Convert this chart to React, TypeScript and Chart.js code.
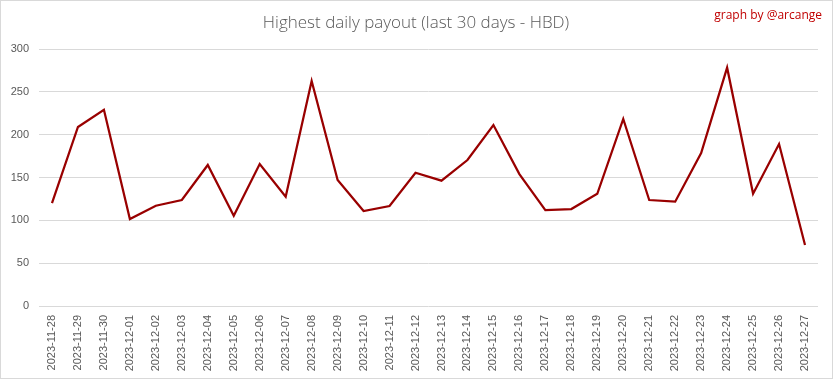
import React, { useEffect, useRef } from "react";
import { Chart, registerables } from "chart.js";

Chart.register(...registerables);

const dates = [
  "2023-11-28", "2023-11-29", "2023-11-30", "2023-12-01", "2023-12-02", "2023-12-03",
  "2023-12-04", "2023-12-05", "2023-12-06", "2023-12-07", "2023-12-08", "2023-12-09",
  "2023-12-10", "2023-12-11", "2023-12-12", "2023-12-13", "2023-12-14", "2023-12-15",
  "2023-12-16", "2023-12-17", "2023-12-18", "2023-12-19", "2023-12-20", "2023-12-21",
  "2023-12-22", "2023-12-23", "2023-12-24", "2023-12-25", "2023-12-26", "2023-12-27",
];

const payouts = [
  120, 209, 229, 101.5, 117, 123.7, 164.6, 105.4, 165.8, 127.6, 262.6, 147,
  110.9, 116.7, 155.6, 146.3, 170.4, 211.3, 154, 112, 113.2, 131, 218.3, 123.7,
  121.8, 178.6, 278.2, 131, 189, 71.2,
];

const yTicks = [0, 50, 100, 150, 200, 250, 300];

const titleText = "Highest daily payout (last 30 days - HBD)";
const watermarkText = "graph by @arcange";

const textPlugin = {
  id: "texts",
  afterDraw(chart: any) {
    const ctx = chart.ctx;
    ctx.save();
    ctx.textBaseline = "middle";
    ctx.font = "300 17px 'Open Sans', sans-serif";
    ctx.fillStyle = "#595959";
    ctx.textAlign = "center";
    ctx.fillText(titleText, 415, 22);
    ctx.font = "12px 'Open Sans', sans-serif";
    ctx.fillStyle = "#c00000";
    ctx.textAlign = "right";
    ctx.fillText(watermarkText, chart.width - 10, 15);
    ctx.restore();
  },
};

export default function App() {
  const ref = useRef<HTMLCanvasElement | null>(null);

  useEffect(() => {
    document.body.style.margin = "0";
    const chart = new Chart(ref.current!, {
      type: "line",
      data: {
        labels: dates,
        datasets: [
          {
            data: payouts,
            borderColor: "#990000",
            borderWidth: 2.25,
            pointRadius: 0,
            tension: 0,
            fill: false,
          },
        ],
      },
      options: {
        animation: false,
        responsive: false,
        layout: { padding: { left: 0, right: 14, top: 48, bottom: 0 } },
        plugins: {
          legend: { display: false },
          tooltip: { enabled: false },
          title: { display: false },
        },
        scales: {
          x: {
            offset: true,
            grid: { display: false },
            border: { display: false },
            afterFit: (axis: any) => {
              axis.height = 72;
            },
            ticks: {
              color: "#595959",
              font: { family: "'Liberation Sans', sans-serif", size: 11 },
              minRotation: 90,
              maxRotation: 90,
              autoSkip: false,
              padding: 1,
            },
          },
          y: {
            min: 0,
            max: 300,
            afterBuildTicks: (axis: any) => {
              axis.ticks = yTicks.map((v) => ({ value: v }));
            },
            afterFit: (axis: any) => {
              axis.width = 38;
            },
            grid: { color: "#d9d9d9", drawTicks: false, lineWidth: 1 },
            border: { display: false },
            ticks: {
              color: "#595959",
              font: { family: "'Liberation Sans', sans-serif", size: 11 },
              padding: 10,
            },
          },
        },
      },
      plugins: [textPlugin],
    });
    return () => chart.destroy();
  }, []);

  return (
    <div
      style={{
        width: 833,
        height: 379,
        boxSizing: "border-box",
        border: "1px solid #d9d9d9",
        background: "#fff",
      }}
    >
      <canvas ref={ref} width={831} height={377} style={{ display: "block" }} />
    </div>
  );
}
